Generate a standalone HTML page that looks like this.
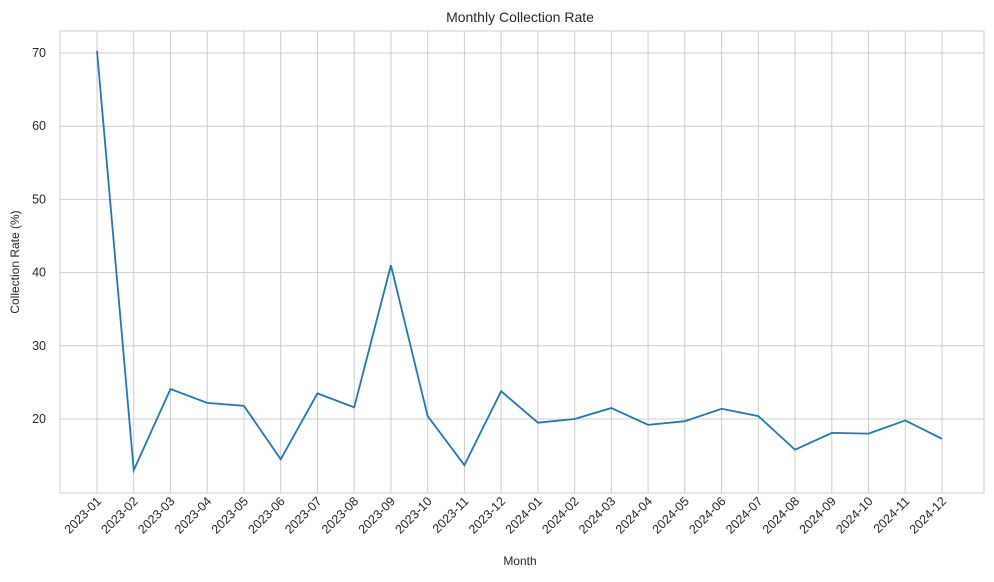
<!DOCTYPE html>
<html><head><meta charset="utf-8"><style>
body{margin:0;background:#fff;font-family:"Liberation Sans","DejaVu Sans",sans-serif;}
svg text{font-family:"Liberation Sans","DejaVu Sans",sans-serif;fill:#262626;}
</style></head><body>
<svg id="chart" width="994" height="577" xmlns="http://www.w3.org/2000/svg">
<g id="grid"></g>
<rect x="60" y="31" width="924" height="462" fill="none" stroke="#cccccc" stroke-width="1"/>
<g id="xt"></g>
<g id="yt"></g>
<path id="line" fill="none" stroke="#1f77b4" stroke-width="1.8"/>
<text x="520" y="22" text-anchor="middle" font-size="14">Monthly Collection Rate</text>
<text x="520" y="565" text-anchor="middle" font-size="12">Month</text>
<text transform="translate(19,262) rotate(-90)" text-anchor="middle" font-size="12">Collection Rate (%)</text>
</svg>
<script>
const months=["2023-01","2023-02","2023-03","2023-04","2023-05","2023-06","2023-07","2023-08","2023-09","2023-10","2023-11","2023-12","2024-01","2024-02","2024-03","2024-04","2024-05","2024-06","2024-07","2024-08","2024-09","2024-10","2024-11","2024-12"];
const rates=[70.3,13.0,24.1,22.2,21.8,14.5,23.5,21.6,41.0,20.4,13.7,23.8,19.5,20.0,21.5,19.2,19.7,21.4,20.4,15.8,18.1,18.0,19.8,17.3];
const yTicks=[20,30,40,50,60,70];
const NS="http://www.w3.org/2000/svg";
const x=i=>97+i*(942-97)/(months.length-1);
const y=v=>419-(v-20)*7.32;
const grid=document.getElementById('grid'),xt=document.getElementById('xt'),yt=document.getElementById('yt');
function mk(t,a,p){const e=document.createElementNS(NS,t);for(const k in a)e.setAttribute(k,a[k]);p.appendChild(e);return e;}
months.forEach((m,i)=>{
 const l=mk('line',{x1:x(i),x2:x(i),y1:31,y2:493,stroke:'#cccccc'},grid);
 
 
 const t=mk('text',{'font-size':'12.5','text-anchor':'end',transform:`translate(${x(i)+5},${502}) rotate(-45)`},xt);
 t.textContent=m;
 
 
});
yTicks.forEach(v=>{
 const l=mk('line',{x1:60,x2:984,y1:y(v),y2:y(v),stroke:'#cccccc'},grid);
 
 
 const t=mk('text',{x:46,y:y(v)+4,'font-size':'12.5','text-anchor':'end'},yt);
 t.textContent=v;
 
 
});
document.getElementById('line').setAttribute('d',rates.map((v,i)=>(i?'L':'M')+x(i)+','+y(v)).join(''));
</script>
</body></html>
